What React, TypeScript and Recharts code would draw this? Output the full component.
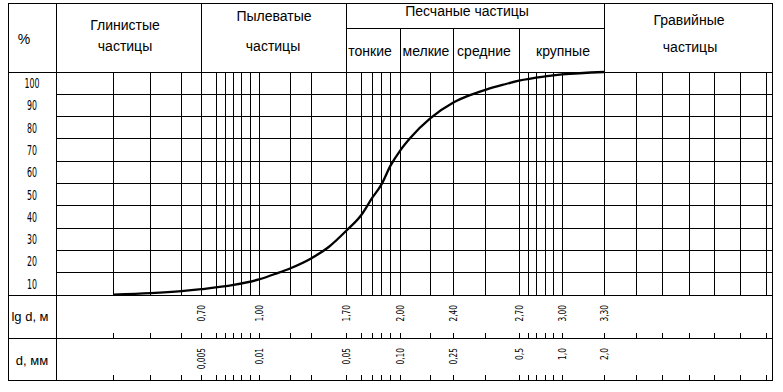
import React from 'react';
import { ComposedChart, Line, XAxis, YAxis, CartesianGrid } from 'recharts';

// ---------------- data ----------------
// passing percentage (y) ticks
const percentTicks = [10, 20, 30, 40, 50, 60, 70, 80, 90, 100];
// labelled diameter ticks: lg d (d in µm) and d in mm
const lgTickValues = [0.7, 1.0, 1.7, 2.0, 2.4, 2.7, 3.0, 3.3];
const lgTickLabels = ['0,70', '1,00', '1,70', '2,00', '2,40', '2,70', '3,00', '3,30'];
const dTickLabels = ['0,005', '0,01', '0,05', '0,10', '0,25', '0,5', '1,0', '2,0'];
// all vertical grid rules of the form, in lg d
const gridLg = [
  0.1, 0.3, 0.5, 0.7, 0.75, 0.8, 0.85, 0.9, 0.95, 1.0, 1.3, 1.48, 1.7, 1.78, 1.845, 1.903,
  1.954, 2.0, 2.18, 2.4, 2.55, 2.7, 2.78, 2.845, 2.903, 2.954, 3.0, 3.3, 3.48, 3.6, 3.7, 3.85,
  4.0, 4.1,
];
// grading curve
const curveLg = [
  0.1, 0.3, 0.5, 0.7, 0.85, 1.0, 1.17, 1.3, 1.48, 1.586, 1.7, 1.78, 1.845, 1.903, 1.954, 2.0,
  2.057, 2.18, 2.4, 2.478, 2.55, 2.63, 2.7, 2.903, 3.0, 3.3,
];
const curvePct = [
  0.2, 0.8, 1.7, 2.6, 4.5, 7.0, 9.7, 12.0, 16.5, 21.4, 28.9, 36.0, 43.4, 49.6, 58.0, 65.0,
  70.3, 79.3, 86.2, 89.6, 92.0, 94.3, 96.1, 98.0, 98.9, 100,
];
// fraction boundaries (lg d) for the header
const fractionBoundsLg = [0.7, 1.7, 3.3];
const sandSubBoundsLg = [2.0, 2.4, 2.7];
const headerTitles = ['Глинистые', 'Пылеватые', 'Песчаные частицы', 'Гравийные'];
const headerSecond = 'частицы';
const sandSubTitles = ['тонкие', 'мелкие', 'средние', 'крупные'];
const rowTitles = ['lg d, м', 'd, мм'];

// ---------------- layout ----------------
const W = 783;
const H = 392;
const PLOT_LEFT = 56;
const PLOT_RIGHT = 772;
const PLOT_TOP = 72;
const PLOT_BOTTOM = 295;
const ROW1_BOTTOM = 338;
const FRAME_LEFT = 8;
const FRAME_TOP = 3;
const FRAME_BOTTOM = 380;
const SAND_SPLIT_Y = 28;
// the hand-drawn form's column stops (lg d -> page x)
const knotLg = [-0.2, ...gridLg, 4.13];
const knotPx = [
  56, 113.5, 150.5, 181.5, 201.5, 216.5, 225, 233.5, 241.5, 250, 259, 290.5, 311.5, 346.5,
  361.5, 372, 381.5, 390.5, 400.5, 430.5, 453, 485.5, 519, 528, 536, 545, 553, 562, 604,
  636.5, 662, 689, 714.5, 740.5, 766.5, 772,
];

function warp(lg: number): number {
  const n = knotLg.length;
  let i = 0;
  if (lg <= knotLg[0]) i = 0;
  else if (lg >= knotLg[n - 1]) i = n - 2;
  else while (i < n - 2 && lg > knotLg[i + 1]) i++;
  const t = (lg - knotLg[i]) / (knotLg[i + 1] - knotLg[i]);
  return knotPx[i] + t * (knotPx[i + 1] - knotPx[i]);
}
const toAxis = (lg: number) => warp(lg) - PLOT_LEFT;

const data = curveLg.map((lg, i) => ({ x: toAxis(lg), pct: curvePct[i] }));
const xTicks = gridLg.map(toAxis);

const SANS = "'Liberation Sans', Arial, sans-serif";
const NARROW = "'Liberation Sans Narrow', 'Arial Narrow', 'DejaVu Sans Condensed', sans-serif";

const labelLen = (s: string) => {
  let n = 0;
  for (const c of s) n += c === ',' ? 2.8 : 4.6;
  return n;
};

const RotLabel = ({ x, y, s }: { x: number; y: number; s: string }) => (
  <text
    x={x}
    y={y}
    transform={`rotate(-90 ${x} ${y})`}
    textAnchor="end"
    fontFamily={NARROW}
    fontSize={10.5}
    fill="#000"
    textLength={labelLen(s)}
    lengthAdjust="spacingAndGlyphs"
  >
    {s}
  </text>
);

const XTick = (props: any) => {
  const { x, y, payload } = props;
  const i = xTicks.findIndex((v) => Math.abs(v - payload.value) < 1e-6);
  const lg = gridLg[i];
  const j = lgTickValues.findIndex((v) => Math.abs(v - lg) < 1e-6);
  const r1 = ROW1_BOTTOM - PLOT_BOTTOM;
  const r2 = FRAME_BOTTOM - PLOT_BOTTOM;
  const bx = x + 3.5;
  return (
    <g>
      <line className="crisp" x1={x} x2={x} y1={y + r1 - 5} y2={y + r1} stroke="#000" />
      <line className="crisp" x1={x} x2={x} y1={y + r2 - 5} y2={y + r2} stroke="#000" />
      {j >= 0 && (
        <>
          <RotLabel x={bx} y={y + 10} s={lgTickLabels[j]} />
          <RotLabel x={bx} y={y + 53} s={dTickLabels[j]} />
        </>
      )}
    </g>
  );
};

const YTick = (props: any) => {
  const { x, y, payload } = props;
  const s = String(payload.value);
  return (
    <text
      x={x - 24}
      y={y + 16}
      textAnchor="middle"
      fontFamily={NARROW}
      fontSize={14}
      fill="#000"
      textLength={s.length * 5}
      lengthAdjust="spacingAndGlyphs"
    >
      {s}
    </text>
  );
};

const Frame = () => {
  const [bClay, bSilt, bSand] = fractionBoundsLg.map(warp);
  const subs = sandSubBoundsLg.map(warp);
  const t = { fontFamily: SANS, fontSize: 14, fill: '#000', textAnchor: 'middle' as const };
  return (
    <g className="frame">
      <rect
        className="crisp"
        x={FRAME_LEFT}
        y={FRAME_TOP}
        width={PLOT_RIGHT - FRAME_LEFT}
        height={FRAME_BOTTOM - FRAME_TOP}
        fill="none"
        stroke="#000"
      />
      {[PLOT_TOP, PLOT_BOTTOM, ROW1_BOTTOM].map((yy) => (
        <line key={yy} className="crisp" x1={FRAME_LEFT} x2={PLOT_RIGHT} y1={yy} y2={yy} stroke="#000" />
      ))}
      <line className="crisp" x1={PLOT_LEFT} x2={PLOT_LEFT} y1={FRAME_TOP} y2={FRAME_BOTTOM} stroke="#000" />
      {[bClay, bSilt, bSand].map((xx) => (
        <line key={xx} className="crisp" x1={xx} x2={xx} y1={FRAME_TOP} y2={PLOT_TOP} stroke="#000" />
      ))}
      <line className="crisp" x1={bSilt} x2={bSand} y1={SAND_SPLIT_Y} y2={SAND_SPLIT_Y} stroke="#000" />
      {subs.map((xx) => (
        <line key={xx} className="crisp" x1={xx} x2={xx} y1={SAND_SPLIT_Y} y2={PLOT_TOP} stroke="#000" />
      ))}

      <text {...t} x={24} y={43.5}>%</text>
      <text {...t} x={125} y={29.5}>{headerTitles[0]}</text>
      <text {...t} x={125} y={51}>{headerSecond}</text>
      <text {...t} x={274} y={21}>{headerTitles[1]}</text>
      <text {...t} x={273} y={51}>{headerSecond}</text>
      <text {...t} x={467} y={15.5}>{headerTitles[2]}</text>
      <text {...t} x={689} y={25}>{headerTitles[3]}</text>
      <text {...t} x={690} y={51.5}>{headerSecond}</text>
      <text {...t} x={370} y={55.5}>{sandSubTitles[0]}</text>
      <text {...t} x={426} y={55.5}>{sandSubTitles[1]}</text>
      <text {...t} x={484} y={55.5}>{sandSubTitles[2]}</text>
      <text {...t} x={563} y={55.5}>{sandSubTitles[3]}</text>

      <text {...t} fontSize={13} x={30} y={320.5}>{rowTitles[0]}</text>
      <text {...t} fontSize={13} x={32} y={365}>{rowTitles[1]}</text>
    </g>
  );
};

export default function App() {
  return (
    <div style={{ position: 'absolute', left: 0, top: 0, width: W, height: H, background: '#fff' }}>
      <style>{`.crisp, .recharts-cartesian-grid line { shape-rendering: crispEdges; }`}</style>
      <ComposedChart
        width={W}
        height={H}
        data={data}
        margin={{ top: PLOT_TOP, right: W - PLOT_RIGHT, bottom: 12, left: FRAME_LEFT }}
      >
        <CartesianGrid stroke="#000" strokeWidth={1} fill="none" />
        <XAxis
          type="number"
          dataKey="x"
          domain={[0, PLOT_RIGHT - PLOT_LEFT]}
          ticks={xTicks}
          interval={0}
          height={FRAME_BOTTOM - PLOT_BOTTOM}
          tickSize={0}
          tickMargin={0}
          axisLine={false}
          tickLine={false}
          tick={<XTick />}
          allowDataOverflow
        />
        <YAxis
          type="number"
          domain={[0, 100]}
          ticks={percentTicks}
          interval={0}
          width={PLOT_LEFT - FRAME_LEFT}
          tickSize={0}
          tickMargin={0}
          axisLine={false}
          tickLine={false}
          tick={<YTick />}
        />
        <Line
          type="monotone"
          dataKey="pct"
          stroke="#000"
          strokeWidth={2.3}
          dot={false}
          activeDot={false}
          isAnimationActive={false}
        />
        <Frame />
      </ComposedChart>
    </div>
  );
}
